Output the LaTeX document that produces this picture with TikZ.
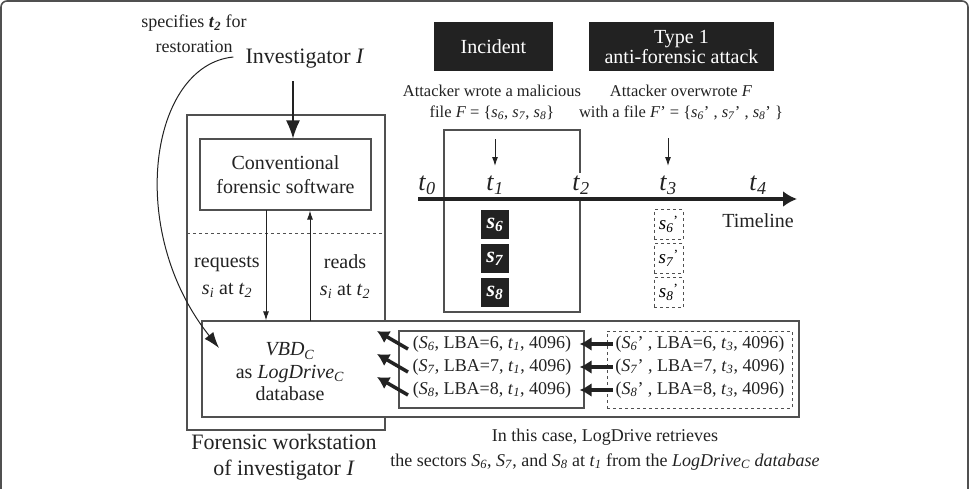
\documentclass[tikz,border=0pt]{standalone}
\usepackage{amsmath}
\usepackage{fontspec}
\setmainfont{Liberation Serif}
\usepackage{tikz}
\usetikzlibrary{positioning,arrows.meta}
\tikzstyle{pixelGrid} = [x = 1pt, y = -1pt, every node/.style={inner sep=0pt}]
\definecolor{lineColor}{RGB}{80,80,80}
\definecolor{boxColor}{RGB}{34,34,34}
\definecolor{textColor}{RGB}{34,34,34}
\tikzstyle{frameLine} = [color=lineColor, line width=1.2pt]
\tikzstyle{plainBox} = [draw=lineColor, line width=1.2pt, fill=white]
\tikzstyle{titleBox} = [fill=boxColor, text=white, align=center, font=\fontsize{20}{20}\selectfont]
\tikzstyle{sectorBox} = [fill=boxColor, text=white, minimum width=28pt, minimum height=29pt, font=\fontsize{22}{22}\selectfont]
\tikzstyle{sectorMaybe} = [draw=lineColor, dashed, line width=1pt, minimum width=29pt, minimum height=30pt, font=\fontsize{19}{19}\selectfont]
\tikzstyle{bigLabel} = [text=textColor, align=center, font=\fontsize{22}{26}\selectfont]
\tikzstyle{midLabel} = [text=textColor, align=center, font=\fontsize{20}{23}\selectfont]
\tikzstyle{smallLabel} = [text=textColor, align=center, font=\fontsize{18}{25}\selectfont]
\tikzstyle{noteLabel} = [text=textColor, align=center, font=\fontsize{16.5}{21}\selectfont]
\tikzstyle{recordText} = [text=textColor, font=\fontsize{18}{18}\selectfont]
\tikzstyle{timeLabel} = [text=textColor, fill=white, inner sep=3pt, font=\fontsize{26}{26}\selectfont]
\tikzstyle{thinArrow} = [-{Latex[length=9pt, width=6pt]}, color=textColor, line width=1pt]
\tikzstyle{curveArrow} = [-{Latex[length=16pt, width=11pt]}, color=textColor, line width=1pt]
\tikzstyle{bigArrow} = [-{Latex[length=18pt, width=14pt]}, color=textColor, line width=1.2pt]
\tikzstyle{recordArrow} = [-{Latex[length=12pt, width=14pt]}, color=textColor, line width=3.5pt]
\tikzstyle{timelineArrow} = [-{Latex[length=14pt, width=16pt]}, color=textColor, line width=4pt]
\newcommand{\subIt}[2]{\textit{#1}\textsubscript{\textit{#2}}}
\newcommand{\boldIt}[2]{\textbf{\textit{#1}}\textsubscript{\textbf{\textit{#2}}}}

\begin{document}
\begin{tikzpicture}[pixelGrid]
  \useasboundingbox (0,0) rectangle (972,488);
  \draw [frameLine, line width=1.6pt, rounded corners=6pt] (1,492) -- (1,1) -- (968,1) -- (968,492);

  % investigator and workstation
  \node [smallLabel] (restoreNote) at (194,34) {specifies \boldIt{t}{2} for\\restoration};
  \node [bigLabel] (investigator) at (305,59) {Investigator \textit{I}};
  \node [plainBox, fill=none, minimum width=198pt, minimum height=315pt] (workstation) at (286,272.5) {};
  \draw [frameLine, dashed, line width=1pt] (187,233) -- (385,233);
  \node [plainBox, midLabel, font=\fontsize{20}{24}\selectfont, minimum width=171pt, minimum height=71pt] (conv) at (285.5,174.5) {Conventional\\forensic software};
  \node [midLabel, font=\fontsize{20}{27}\selectfont] (requestText) at (227,276.5) {requests\\\subIt{s}{i} at \subIt{t}{2}};
  \node [midLabel, font=\fontsize{20}{27}\selectfont] (readText) at (345,276.5) {reads\\\subIt{s}{i} at \subIt{t}{2}};
  \node [plainBox, minimum width=597pt, minimum height=96pt] (vbdBox) at (500.5,369) {};
  \node [midLabel, font=\fontsize{20}{22.5}\selectfont] (vbdText) at (290,372) {\subIt{VBD}{C}\\as \subIt{LogDrive}{C}\\database};
  \node [bigLabel] (workstationLabel) at (284,457) {Forensic workstation\\of investigator \textit{I}};

  \coordinate (investigatorFoot) at (293,81);
  \draw [bigArrow] (investigatorFoot) -- (investigatorFoot |- conv.north);
  \coordinate (requestStart) at (266,210);
  \draw [thinArrow] (requestStart) -- (requestStart |- vbdBox.north);
  \coordinate (readStart) at (310,321);
  \draw [thinArrow] (readStart) -- (readStart |- conv.south);
  \coordinate (restoreTip) at (219,348);
  \draw [curveArrow] ([xshift=-12pt, yshift=2pt]investigator.west) .. controls (150,65) and (125,230) .. (restoreTip);

  % LogDrive records
  \node [plainBox, minimum width=185pt, minimum height=77pt] (oldBox) at (491.5,369.5) {};
  \node [plainBox, dashed, line width=1pt, minimum width=185pt, minimum height=77pt] (newBox) at (699.5,369.5) {};
  \foreach \sector/\rowY in {6/344, 7/367, 8/390} {
    \node [recordText] (oldRec\sector) at (492,\rowY) {(\subIt{S}{\sector}, LBA=\sector, \subIt{t}{1}, 4096)};
    \node [recordText] (newRec\sector) at (700,\rowY) {(\subIt{S}{\sector}' , LBA=\sector, \subIt{t}{3}, 4096)};
    \draw [recordArrow, shorten <=-6pt, shorten >=-5pt] (newBox.west |- newRec\sector) -- (oldBox.east |- oldRec\sector);
    \coordinate (oldTail\sector) at (408,\rowY+5);
    \coordinate (vbdTip\sector) at (377,\rowY-13);
    \draw [recordArrow] (oldTail\sector) -- (vbdTip\sector);
  }
  \node [smallLabel] (caseNote) at (605,449.5) {In this case, LogDrive retrieves\\the sectors \subIt{S}{6}, \subIt{S}{7}, and \subIt{S}{8} at \subIt{t}{1} from the \subIt{LogDrive}{C} \textit{database}};

  % timeline
  \node [titleBox, minimum width=119pt, minimum height=49pt] (incident) at (493.5,46.5) {Incident};
  \node [titleBox, minimum width=185pt, minimum height=49pt] (attack) at (681.5,46.5) {Type 1\\anti-forensic attack};
  \node [noteLabel] (incidentNote) at (492,102.5) {Attacker wrote a malicious\\file \textit{F} = \{\subIt{s}{6}, \subIt{s}{7}, \subIt{s}{8}\}};
  \node [noteLabel] (attackNote) at (681,102.5) {Attacker overwrote \textit{F}\\with a file \textit{F}' = \{\subIt{s}{6}' , \subIt{s}{7}' , \subIt{s}{8}' \}};
  \node [plainBox, fill=none, minimum width=136pt, minimum height=182pt] (window) at (512,221) {};
  \coordinate (timeStart) at (418,199);
  \coordinate (timeEnd) at (797,199);
  \draw [timelineArrow] (timeStart) -- (timeEnd);
  \foreach \tick/\tickX in {0/427, 1/495, 2/581, 3/668, 4/758}
    \node [timeLabel] (t\tick) at (\tickX,185) {\subIt{t}{\tick}};
  \coordinate (incidentMark) at (495,139);
  \draw [thinArrow] (incidentMark) -- ++(0,27);
  \coordinate (attackMark) at (668,138);
  \draw [thinArrow] (attackMark) -- ++(0,28);
  \node [midLabel] (timelineLabel) at (758,221) {Timeline};
  \foreach \sector/\rowY in {6/224.5, 7/258.5, 8/292.5} {
    \node [sectorBox] (sector\sector) at (495,\rowY) {\boldIt{s}{\sector}};
    \node [sectorMaybe] (sectorNew\sector) at (668.5,\rowY) {\subIt{s}{\sector}\raisebox{4pt}{\fontsize{14}{14}\selectfont '}};
  }
\end{tikzpicture}
\end{document}
